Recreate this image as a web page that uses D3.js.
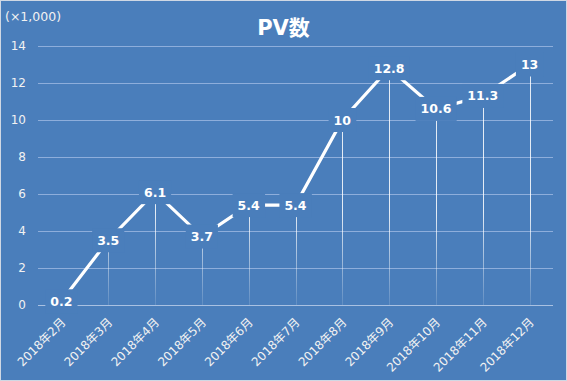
<!DOCTYPE html>
<html><head><meta charset="utf-8">
<script src="https://cdn.jsdelivr.net/npm/d3@7"></script>
<style>html,body{margin:0;padding:0;background:#fff;}svg{display:block;}</style>
</head><body>
<script>
const categories = ["2018年2月","2018年3月","2018年4月","2018年5月","2018年6月","2018年7月","2018年8月","2018年9月","2018年10月","2018年11月","2018年12月"];
const pvValues = [0.2, 3.5, 6.1, 3.7, 5.4, 5.4, 10, 12.8, 10.6, 11.3, 13];
const yTicks = [0, 2, 4, 6, 8, 10, 12, 14];
const titleText = "PV数";
const unitText = "(×1,000)";

const W = 567, H = 381;
const bg = "#4a7ebb";
const font = "'DejaVu Sans','Noto Sans CJK JP',sans-serif";
const svg = d3.select("body").append("svg").attr("width", W).attr("height", H);

svg.append("rect").attr("x",0.5).attr("y",0.5).attr("width",W-1).attr("height",H-1)
  .attr("fill",bg).attr("stroke","#d0d8e4").attr("stroke-width",1);

const x = d3.scaleBand().domain(categories).range([38, 553]);
const y = d3.scaleLinear().domain([0, 14]).range([305, 46]);
const cx = d => x(d) + x.bandwidth()/2;

const defs = svg.append("defs");
const grad = defs.append("linearGradient").attr("id","dropGrad")
  .attr("gradientUnits","userSpaceOnUse").attr("x1",0).attr("x2",0).attr("y1",y(5)).attr("y2",y(0));
grad.append("stop").attr("offset","0%").attr("stop-color","#fff").attr("stop-opacity",0.85);
grad.append("stop").attr("offset","100%").attr("stop-color","#fff").attr("stop-opacity",0.12);

// gridlines
svg.append("g").selectAll("line").data(yTicks).join("line")
  .attr("x1", 38).attr("x2", 553)
  .attr("y1", d => Math.round(y(d))+0.5).attr("y2", d => Math.round(y(d))+0.5)
  .attr("stroke", d => d===0 ? "#a9c1e2" : "#8eaedb").attr("stroke-width", 1);

// y tick labels
svg.append("g").selectAll("text").data(yTicks).join("text")
  .attr("x", 26).attr("y", d => y(d)).attr("dy","0.36em")
  .attr("text-anchor","end").attr("fill","#f2f2f2")
  .attr("font-family",font).attr("font-size",12).text(d => d);

// drop lines
svg.append("g").selectAll("line").data(pvValues).join("line")
  .attr("x1", (d,i) => Math.round(cx(categories[i]))+0.5)
  .attr("x2", (d,i) => Math.round(cx(categories[i]))+0.5)
  .attr("y1", d => y(d)).attr("y2", y(0))
  .attr("stroke","url(#dropGrad)").attr("stroke-width",1);

// line
const line = d3.line().x((d,i) => cx(categories[i])).y(d => y(d));
svg.append("path").datum(pvValues).attr("d", line)
  .attr("fill","none").attr("stroke","#fff").attr("stroke-width",3.2);

// data labels
const lg = svg.append("g");
pvValues.forEach((v,i) => {
  const px = cx(categories[i]), py = y(v);
  const t = lg.append("text").attr("x",px).attr("y",py).attr("dy","0.36em")
    .attr("text-anchor","middle").attr("fill","#fff").attr("font-weight","bold")
    .attr("font-family",font).attr("font-size",12.5).text(v);
  const bb = t.node().getBBox();
  lg.insert("rect", () => t.node())
    .attr("x", bb.x - 5).attr("y", py - 12).attr("width", bb.width + 10).attr("height", 24)
    .attr("fill", bg);
});

// x labels
svg.append("g").selectAll("text").data(categories).join("text")
  .attr("transform", d => `translate(${cx(d)+2},${320}) rotate(-45)`)
  .attr("text-anchor","end").attr("dy","0.36em").attr("fill","#f2f2f2")
  .attr("font-family",font).attr("font-size",12).text(d => d);

// title
svg.append("text").attr("x", W/2).attr("y", 35).attr("text-anchor","middle")
  .attr("fill","#fff").attr("font-weight","bold").attr("font-family",font)
  .attr("font-size",21).text(titleText);

// unit
svg.append("text").attr("x", 5).attr("y", 21).attr("fill","#f2f2f2")
  .attr("font-family",font).attr("font-size",12.5).text(unitText);
</script>
</body></html>
